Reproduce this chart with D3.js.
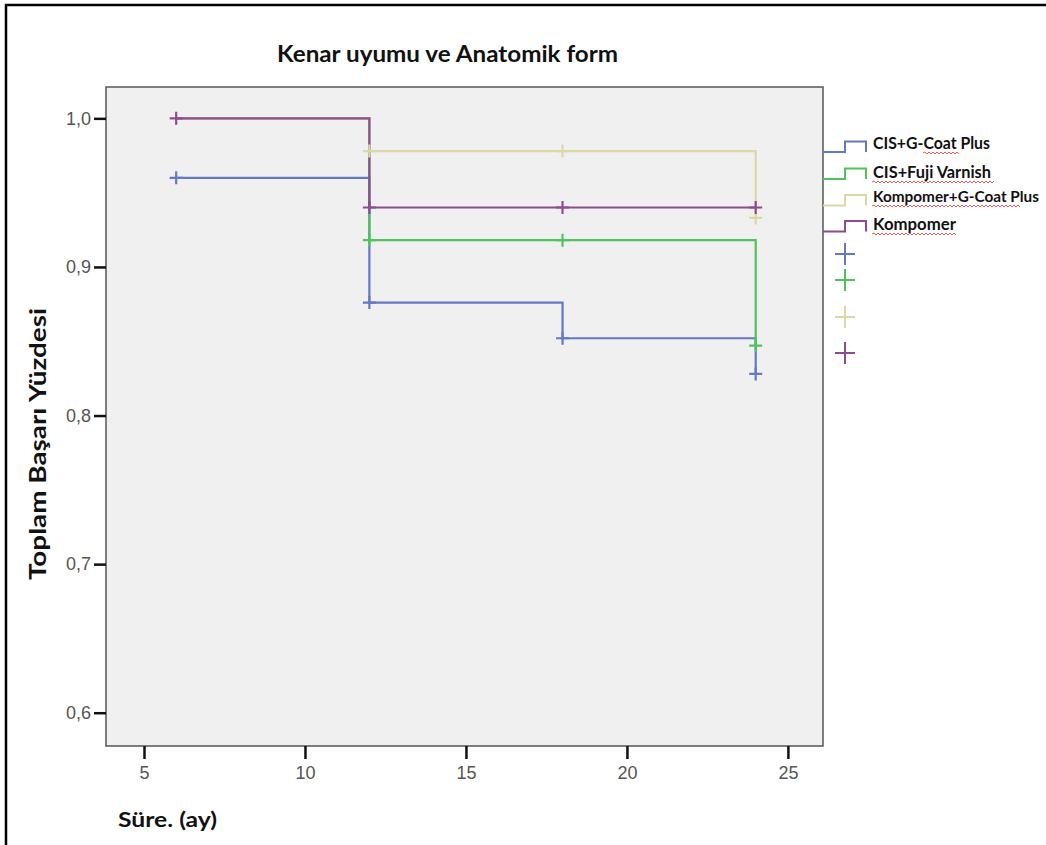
<!DOCTYPE html>
<html>
<head>
<meta charset="utf-8">
<script src="https://cdn.jsdelivr.net/npm/d3@7"></script>
<style>
  body { margin: 0; background: #fff; }
  svg { display: block; }
</style>
</head>
<body>
<svg id="chart"></svg>
<script>
const width = 1046;
const height = 845;

// Groups (legend order)
const groups = ["CIS+G-Coat Plus", "CIS+Fuji Varnish", "Kompomer+G-Coat Plus", "Kompomer"];
const colors = ["#6279c3", "#4fc35d", "#dcd8a6", "#8e4b91"];

// Step points (time in months, cumulative survival) per group
const blueTimes = [6, 12, 18, 24];
const blueSurv = [0.960, 0.876, 0.852, 0.828];
const greenTimes = [6, 12, 24];
const greenSurv = [1.0, 0.918, 0.847];
const tanTimes = [6, 12, 24];
const tanSurv = [1.0, 0.978, 0.933];
const purpleTimes = [6, 12, 24];
const purpleSurv = [1.0, 0.940, 0.940];

// Censored observations
const blueCensT = [6, 12, 18, 24];
const blueCensS = [0.960, 0.876, 0.852, 0.828];
const greenCensT = [12, 18, 24];
const greenCensS = [0.918, 0.918, 0.847];
const tanCensT = [12, 18, 24];
const tanCensS = [0.978, 0.978, 0.933];
const purpleCensT = [6, 12, 18, 24];
const purpleCensS = [1.0, 0.940, 0.940, 0.940];

const xTicks = [5, 10, 15, 20, 25];
const yTicks = [0.6, 0.7, 0.8, 0.9, 1.0];

const series = [
  {times: blueTimes, surv: blueSurv, ct: blueCensT, cs: blueCensS},
  {times: greenTimes, surv: greenSurv, ct: greenCensT, cs: greenCensS},
  {times: tanTimes, surv: tanSurv, ct: tanCensT, cs: tanCensS},
  {times: purpleTimes, surv: purpleSurv, ct: purpleCensT, cs: purpleCensS}
];

const svg = d3.select("#chart")
    .attr("width", width)
    .attr("height", height)
    .attr("viewBox", `0 0 ${width} ${height}`);

svg.append("rect").attr("width", width).attr("height", height).attr("fill", "#fff");

// outer frame (runs off the right and bottom edge)
svg.append("rect")
    .attr("x", 6).attr("y", 5)
    .attr("width", 1100).attr("height", 900)
    .attr("fill", "none").attr("stroke", "#000").attr("stroke-width", 2.5);

// plot area
const plot = {left: 106, top: 87, right: 823, bottom: 746};

const x = d3.scaleLinear().domain([3.82, 26.09]).range([plot.left, plot.right]);
const y = d3.scaleLinear().domain([0.5776, 1.0211]).range([plot.bottom, plot.top]);

svg.append("rect")
    .attr("x", plot.left).attr("y", plot.top)
    .attr("width", plot.right - plot.left).attr("height", plot.bottom - plot.top)
    .attr("fill", "#f0f0f0").attr("stroke", "#555").attr("stroke-width", 1.5);

// axes
const fmt = d => d3.format(".1f")(d).replace(".", ",");

const yAxis = svg.append("g")
    .attr("transform", `translate(${plot.left},0)`)
    .call(d3.axisLeft(y).tickValues(yTicks).tickFormat(fmt).tickSize(12).tickPadding(3));

const xAxis = svg.append("g")
    .attr("transform", `translate(0,${plot.bottom})`)
    .call(d3.axisBottom(x).tickValues(xTicks).tickSize(13).tickPadding(7));

[yAxis, xAxis].forEach(g => {
  g.select(".domain").remove();
  g.selectAll(".tick line").attr("stroke", "#111").attr("stroke-width", 2.5);
  g.selectAll(".tick text")
      .attr("fill", "#555")
      .style("font-family", "'Liberation Sans', Arial, sans-serif")
      .style("font-size", "18px");
});

// step curves
const line = d3.line()
    .x(d => x(d[0]))
    .y(d => y(d[1]))
    .curve(d3.curveStepAfter);

const linesGroup = svg.append("g").attr("class", "km-lines");
series.forEach((s, i) => {
  linesGroup.append("path")
      .datum(s.times.map((t, j) => [t, s.surv[j]]))
      .attr("fill", "none")
      .attr("stroke", colors[i])
      .attr("stroke-width", 2.2)
      .attr("d", line);
});

// censor marks
const censGroup = svg.append("g").attr("class", "censors");
series.forEach((s, i) => {
  s.ct.forEach((t, j) => {
    const cx = x(t), cy = y(s.cs[j]);
    censGroup.append("path")
        .attr("d", `M${cx - 6.5},${cy}H${cx + 6.5}M${cx},${cy - 6.5}V${cy + 6.5}`)
        .attr("stroke", colors[i])
        .attr("stroke-width", 2.2)
        .attr("fill", "none");
  });
});

// legend
const legendRowsY = [152, 179, 205.5, 231.5];
const legendTextY = [149, 178, 202, 230];
const legendTextW = [117, 118, 166, 83];
const legendFont = [17, 17, 15, 17];
const crossY = [254, 280, 317, 353];
const squiggles = [[923, 960], [872, 995], [872, 1020], [872, 957]];

const legend = svg.append("g").attr("class", "legend");
groups.forEach((name, i) => {
  const ly = legendRowsY[i];
  legend.append("path")
      .attr("d", `M${plot.right},${ly}H845V${ly - 10.5}H866V${ly}`)
      .attr("fill", "none")
      .attr("stroke", colors[i])
      .attr("stroke-width", 2);

  legend.append("text")
      .attr("x", 873)
      .attr("y", legendTextY[i])
      .attr("textLength", legendTextW[i])
      .attr("lengthAdjust", "spacingAndGlyphs")
      .style("font-family", "Lato, 'Open Sans', sans-serif")
      .style("font-weight", "bold")
      .style("font-size", legendFont[i] + "px")
      .attr("fill", "#111")
      .text(name);

  // spell-check underline seen in the source screenshot
  const [sx0, sx1] = squiggles[i];
  const sy = legendTextY[i] + 4;
  let d = `M${sx0},${sy}`;
  for (let k = sx0 + 2, up = true; k <= sx1; k += 2, up = !up) d += `L${k},${sy + (up ? -1 : 1)}`;
  legend.append("path").attr("d", d).attr("fill", "none")
      .attr("stroke", "#e8464a").attr("stroke-width", 0.9);

  const cy = crossY[i];
  legend.append("path")
      .attr("d", `M835,${cy}H855M845,${cy - 11}V${cy + 11}`)
      .attr("stroke", colors[i])
      .attr("stroke-width", 2)
      .attr("fill", "none");
});

// titles
svg.append("text")
    .attr("x", 277).attr("y", 62)
    .attr("textLength", 341).attr("lengthAdjust", "spacingAndGlyphs")
    .style("font-family", "Lato, 'Open Sans', sans-serif")
    .style("font-weight", "bold").style("font-size", "23px")
    .attr("fill", "#111")
    .text("Kenar uyumu ve Anatomik form");

svg.append("text")
    .attr("x", 118).attr("y", 827)
    .attr("textLength", 99).attr("lengthAdjust", "spacingAndGlyphs")
    .style("font-family", "Lato, 'Open Sans', sans-serif")
    .style("font-weight", "bold").style("font-size", "21px")
    .attr("fill", "#111")
    .text("Süre. (ay)");

svg.append("text")
    .attr("transform", "translate(46,580) rotate(-90)")
    .attr("textLength", 272).attr("lengthAdjust", "spacingAndGlyphs")
    .style("font-family", "Lato, 'Open Sans', sans-serif")
    .style("font-weight", "bold").style("font-size", "22px")
    .attr("fill", "#111")
    .text("Toplam Başarı  Yüzdesi");
</script>
</body>
</html>
